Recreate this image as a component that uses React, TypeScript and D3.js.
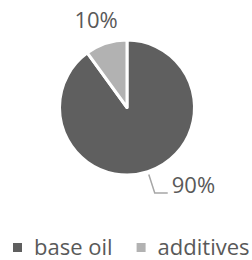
import { useEffect, useRef } from 'react';
import * as d3 from 'd3';

const categories = ['base oil', 'additives'];
const shares = [90, 10];
const sliceColors = ['#5f5f5f', '#b2b2b2'];

const W = 252;
const H = 260;

export default function App() {
  const svgRef = useRef<SVGSVGElement>(null);

  useEffect(() => {
    if (!svgRef.current) return;
    const svg = d3.select(svgRef.current);
    svg.selectAll('*').remove();

    const data = categories.map((c, i) => ({ name: c, value: shares[i] }));
    const color = d3.scaleOrdinal<string, string>().domain(categories).range(sliceColors);

    const cx = 127;
    const cy = 107.5;
    const radius = 67.5;

    const pie = d3.pie<{ name: string; value: number }>().sort(null).value(d => d.value);
    const arcs = pie(data);
    const arc = d3.arc<d3.PieArcDatum<{ name: string; value: number }>>()
      .innerRadius(0)
      .outerRadius(radius);

    const g = svg.append('g').attr('transform', `translate(${cx},${cy})`);

    g.selectAll('path.slice')
      .data(arcs)
      .enter()
      .append('path')
      .attr('class', 'slice')
      .attr('d', arc)
      .attr('fill', d => color(d.data.name))
      .attr('stroke', '#fff')
      .attr('stroke-width', 3)
      .attr('stroke-linejoin', 'round');

    // point on a ray from the centre, angle measured clockwise from 12 o'clock
    const polar = (a: number, r: number) => [Math.sin(a) * r, -Math.cos(a) * r];
    const font = "'Open Sans', sans-serif";
    const textColor = '#595959';

    // 10% label, straight above its slice
    const small = arcs[1];
    const smallMid = (small.startAngle + small.endAngle) / 2;
    const [sx, sy] = polar(smallMid, radius * 1.34);
    g.append('text')
      .attr('x', sx - 3)
      .attr('y', sy + 7)
      .attr('text-anchor', 'middle')
      .attr('font-family', font)
      .attr('font-size', 22)
      .attr('fill', textColor)
      .text(`${small.data.value}%`);

    // 90% label with leader line
    const big = arcs[0];
    const bigMid = (big.startAngle + big.endAngle) / 2;
    const [x0, y0] = polar(bigMid, radius + 3);
    const [x1, y1] = polar(bigMid, radius * 1.33);
    g.append('polyline')
      .attr('points', `${x0},${y0} ${x1},${y1} ${x1 + 13},${y1}`)
      .attr('fill', 'none')
      .attr('stroke', '#a6a6a6')
      .attr('stroke-width', 1.5);
    g.append('text')
      .attr('x', x1 + 17)
      .attr('y', y1)
      .attr('font-family', font)
      .attr('font-size', 22)
      .attr('fill', textColor)
      .text(`${big.data.value}%`);

    // Legend
    const legend = svg.append('g').attr('transform', `translate(13, 255)`);
    let x = 0;
    categories.forEach(name => {
      legend.append('rect')
        .attr('x', x).attr('y', -12).attr('width', 9).attr('height', 9)
        .attr('fill', color(name));
      const t = legend.append('text')
        .attr('x', x + 21)
        .attr('y', 0)
        .attr('font-family', font)
        .attr('font-size', 22)
        .attr('fill', textColor)
        .text(name);
      const w = (t.node() as SVGTextElement).getComputedTextLength();
      x += 21 + w + 24;
    });
  }, []);

  return (
    <svg
      ref={svgRef}
      width={W}
      height={H}
      style={{ position: 'absolute', left: 0, top: 0, background: '#fff' }}
    />
  );
}
